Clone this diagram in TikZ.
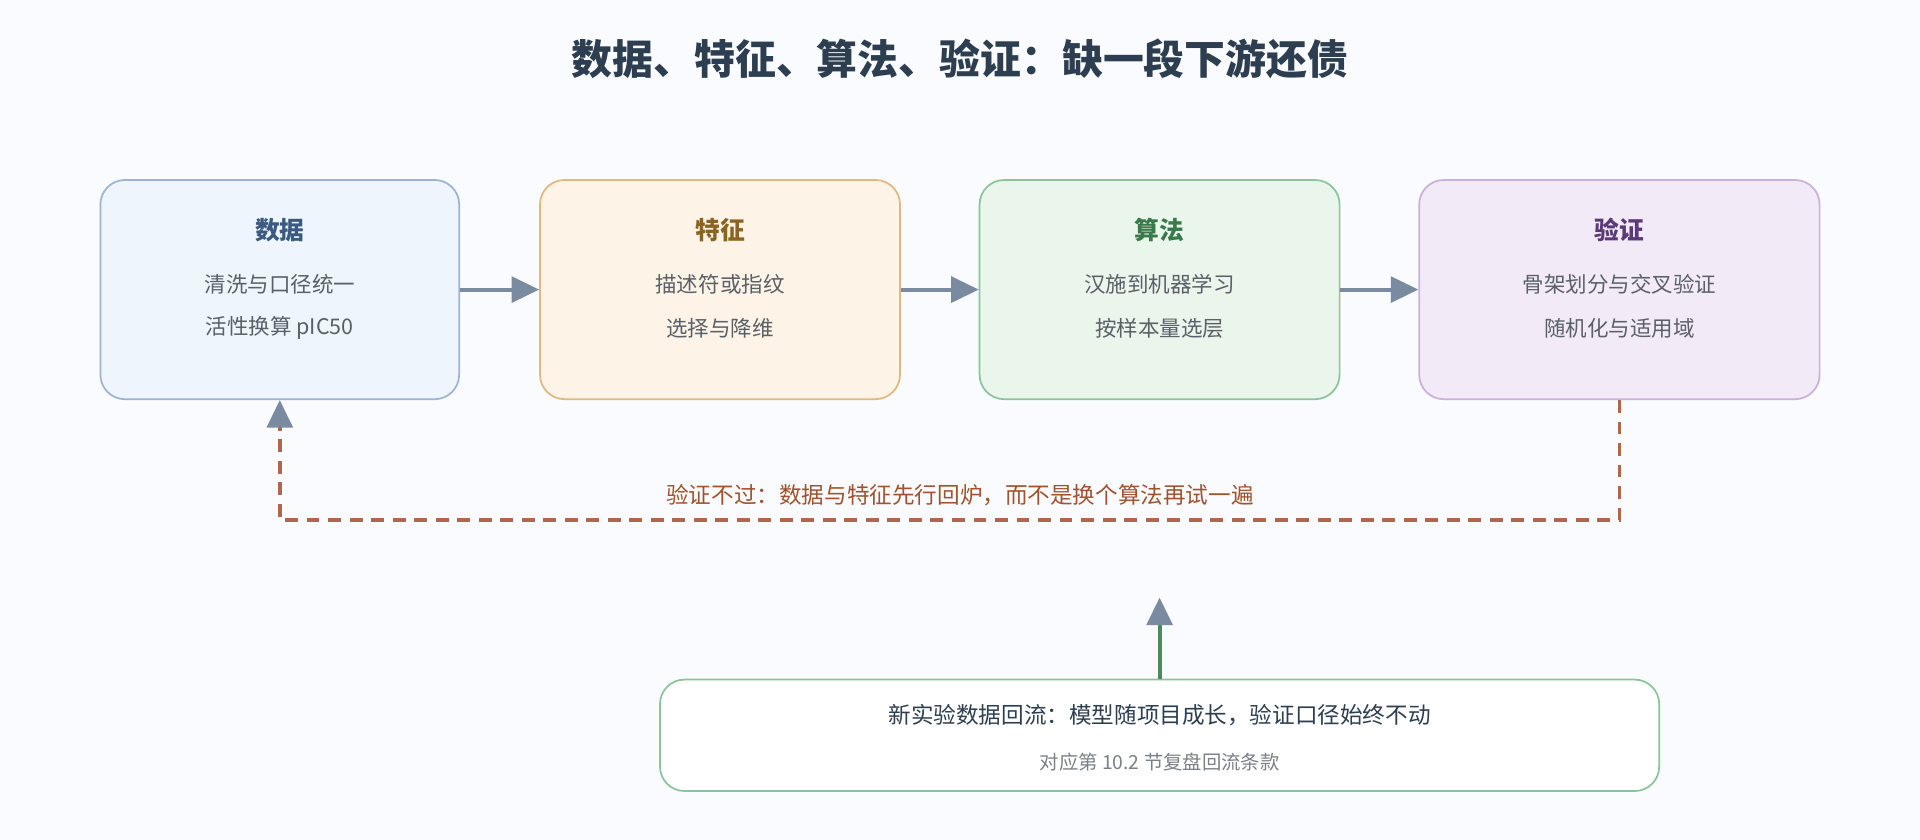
\documentclass[tikz,border=0pt]{standalone}
\usepackage{fontspec}
\setmainfont{Noto Sans CJK SC}
\usetikzlibrary{arrows.meta}
\definecolor{ink}{HTML}{2C3E50}
\definecolor{bodyc}{HTML}{5A6068}
\definecolor{arrowc}{HTML}{7A8AA0}
\definecolor{loopc}{HTML}{B0664C}
\definecolor{loopt}{HTML}{A0522D}
\definecolor{bgc}{HTML}{F9FBFE}
\definecolor{dataF}{HTML}{EEF5FC}\definecolor{dataD}{HTML}{9DB3D6}\definecolor{dataT}{HTML}{3A5A80}
\definecolor{featF}{HTML}{FDF3E6}\definecolor{featD}{HTML}{E0B880}\definecolor{featT}{HTML}{8A6420}
\definecolor{algoF}{HTML}{EAF6EC}\definecolor{algoD}{HTML}{8CC49A}\definecolor{algoT}{HTML}{3A7A4A}
\definecolor{validF}{HTML}{F3EAF7}\definecolor{validD}{HTML}{C9B0DD}\definecolor{validT}{HTML}{5A3A78}
\definecolor{feedc}{HTML}{4A8A5C}
\tikzset{
  stage/.style={draw, rounded corners=0.4cm, line width=0.8pt, minimum height=179*0.02cm},
  head/.style={font=\fontsize{11.5}{13}\selectfont\bfseries},
  body/.style={font=\fontsize{10}{12}\selectfont, text=bodyc},
  flow/.style={draw=arrowc, line width=1.8pt, -{Triangle[length=0.45cm,width=0.42cm]}},
  greytip/.style={-{Triangle[length=0.45cm,width=0.42cm,color=arrowc,fill=arrowc]}},
}
\begin{document}
\begin{tikzpicture}[x=0.02cm, y=-0.02cm]
	\fill[bgc] (0,0) rectangle (1568,686);
	\node[font=\fontsize{19}{22}\selectfont\bfseries, text=ink] (title) at (784,48) {数据、特征、算法、验证：缺一段下游还债};
	% stages
	\node[stage, fill=dataF, draw=dataD, minimum width=293*0.02cm] (data) at (228.5,236.5) {};
	\node[stage, fill=featF, draw=featD, minimum width=294*0.02cm] (feat) at (588,236.5) {};
	\node[stage, fill=algoF, draw=algoD, minimum width=294*0.02cm] (algo) at (947,236.5) {};
	\node[stage, fill=validF, draw=validD, minimum width=327*0.02cm] (valid) at (1322.5,236.5) {};
	\node[head, text=dataT] (dataH) at (228.5,188) {数据};
	\node[body] (dataA) at (228.5,232) {清洗与口径统一};
	\node[body] (dataB) at (228.5,268) {活性换算 pIC50};
	\node[head, text=featT] (featH) at (588,188) {特征};
	\node[body] (featA) at (588,232) {描述符或指纹};
	\node[body] (featB) at (588,268) {选择与降维};
	\node[head, text=algoT] (algoH) at (947,188) {算法};
	\node[body] (algoA) at (947,232) {汉施到机器学习};
	\node[body] (algoB) at (947,268) {按样本量选层};
	\node[head, text=validT] (validH) at (1322.5,188) {验证};
	\node[body] (validA) at (1322.5,232) {骨架划分与交叉验证};
	\node[body] (validB) at (1322.5,268) {随机化与适用域};
	\draw[flow] (data) -- (feat);
	\draw[flow] (feat) -- (algo);
	\draw[flow] (algo) -- (valid);
	% feedback loop
	\draw[loopc, line width=1.6pt, dash pattern=on 6pt off 4pt, greytip]
		(valid.south) -- ++(0,98) -| (data.south);
	\node[font=\fontsize{10.5}{12}\selectfont, text=loopt] (loopL) at (784,404) {验证不过：数据与特征先行回炉，而不是换个算法再试一遍};
	% new data
	\node[draw=algoD, fill=white, rounded corners=0.4cm, line width=0.8pt, minimum width=816*0.02cm, minimum height=91*0.02cm] (newdata) at (947,600.5) {};
	\node[font=\fontsize{10.5}{12}\selectfont, text=ink] (newA) at (947,584) {新实验数据回流：模型随项目成长，验证口径始终不动};
	\node[font=\fontsize{9}{11}\selectfont, text=bodyc!80] (newB) at (947,622) {对应第 10.2 节复盘回流条款};
	\coordinate (feed) at (947,488);
	\draw[draw=feedc, line width=1.8pt, greytip] (newdata.north) -- (feed);
\end{tikzpicture}
\end{document}
